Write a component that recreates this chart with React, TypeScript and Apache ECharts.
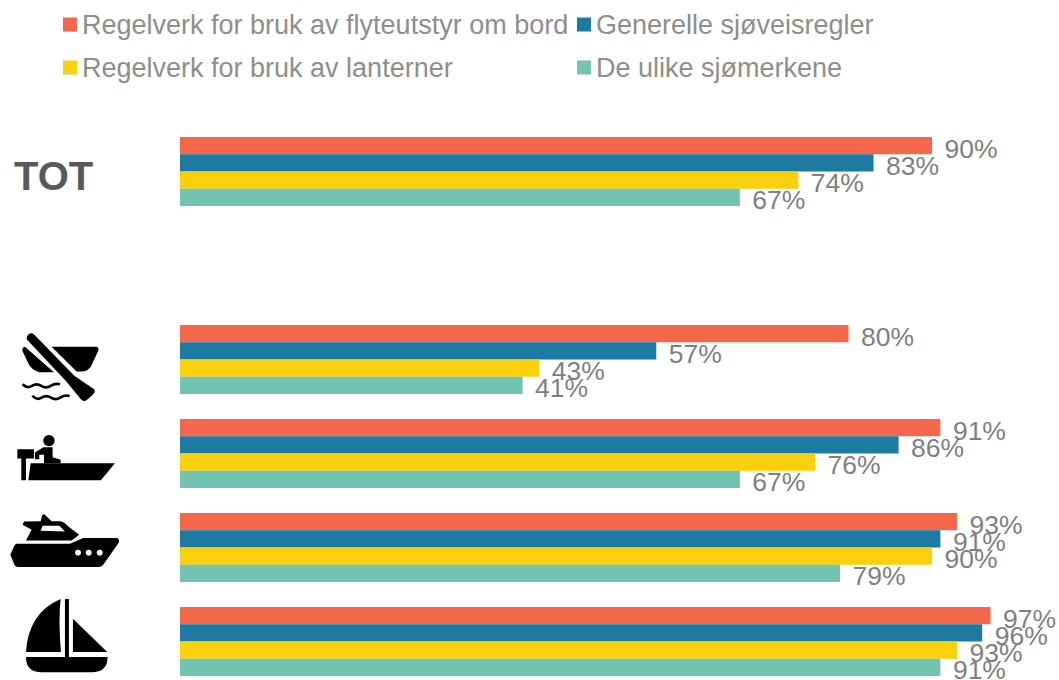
import React, { useEffect, useRef } from "react";
import * as echarts from "echarts";

const categories = ["TOT", "", "Robåt", "Motorbåt", "Kabinbåt", "Seilbåt"];
const seriesNames = [
  "Regelverk for bruk av flyteutstyr om bord",
  "Generelle sjøveisregler",
  "Regelverk for bruk av lanterner",
  "De ulike sjømerkene",
];
const flyteutstyr = [90, null, 80, 91, 93, 97];
const sjoveisregler = [83, null, 57, 86, 91, 96];
const lanterner = [74, null, 43, 76, 90, 93];
const sjomerker = [67, null, 41, 67, 79, 91];
const colors = ["#F4674B", "#1D7AA3", "#FACF0C", "#72C3B2"];

const icons: Record<string, string> = {
  iconOar: "M80 58 Q80 40 97 40 L103 44 L224 168 L284 209 Q287 216 280 223 L259 242 Q250 246 243 238 L198 183 Z",
  iconHullR: "M155 80 L290 80 Q298 82 295 92 L274 138 Q264 155 245 155 L230 155 Z",
  iconHullL: "M75 80 L162 157 L118 157 Q94 150 85 130 L67 92 Q66 82 75 80 Z",
  iconTorso: "M147 345 A17 17 0 1 1 146.9 345 Z M130 382 L158 382 L158 412 L182 420 L182 430 L132 430 L132 405 L118 405 L118 418 L105 418 L105 398 Z",
  iconMotor: "M52 388 L102 388 L102 416 L78 416 L78 481 L64 481 L64 416 L52 416 Z",
  iconHull2: "M92 430 L345 430 L303 481 L85 481 Z",
  iconYachtHull: "M50 672 L210 672 L250 655 L350 655 Q360 657 357 668 L310 735 Q305 742 295 742 L55 742 Q45 742 42 732 L31 705 L42 680 Q45 672 50 672 Z",
  iconYachtTop: "M78 662 L95 630 L68 615 L72 605 L122 604 L127 585 L133 583 L155 604 L180 604 Q195 606 205 620 L238 645 L215 662 Z",
  iconSailL: "M182 838 Q175 900 183 997 L78 997 Q85 880 182 838 Z",
  iconSailR: "M219 897 L322 997 L219 997 Z",
  iconMast: "M195 838 L207 838 L207 1012 L195 1012 Z",
  iconSailHull: "M78 1012 L323 1012 Q323 1058 275 1058 L125 1058 Q78 1058 78 1012 Z",
  iconWave: "M68 193 Q82 207 96 198 T124 198 T152 198 T180 193 M97 228 Q111 242 125 233 T153 233 T181 233 T209 228",
};
Object.keys(icons).forEach((k) => {
  echarts.graphic.registerShape(k, echarts.graphic.extendPath(icons[k], {}) as any);
});

export default function App() {
  const ref = useRef<HTMLDivElement>(null);
  useEffect(() => {
    const chart = echarts.init(ref.current!, null, { renderer: "svg" });
    const values = [flyteutstyr, sjoveisregler, lanterner, sjomerker];
    const legendPos = [
      [63, 11],
      [577, 11],
      [63, 54],
      [577, 54],
    ];
    const solid = Object.keys(icons)
      .filter((k) => k !== "iconWave")
      .map((k) => ({ type: k, x: 0, y: 320, scaleX: 1 / 3, scaleY: 1 / 3, style: { fill: "#000" } }));
    const tx = { x: 0, y: 320, scaleX: 1 / 3, scaleY: 1 / 3 };
    chart.setOption({
      animation: false,
      legend: seriesNames.map((name, i) => ({
        data: [name],
        left: legendPos[i][0],
        top: legendPos[i][1],
        padding: 0,
        itemWidth: 14,
        itemHeight: 14,
        icon: "rect",
        textStyle: {
          fontFamily: "Liberation Sans",
          fontSize: 27,
          color: "#8E8E8C",
          padding: [0, 0, 9, 0],
        },
      })),
      grid: { left: 180, top: 124.5, width: 835.6, height: 564 },
      xAxis: { type: "value", min: 0, max: 100, show: false },
      yAxis: {
        type: "category",
        inverse: true,
        data: categories,
        axisLine: { show: false },
        axisTick: { show: false },
        axisLabel: {
          align: "left",
          margin: 166,
          formatter: (v: string) => (v === "TOT" ? "{t|" + v + "}" : ""),
          rich: {
            t: {
              fontFamily: "Liberation Sans",
              fontWeight: "bold",
              fontSize: 40,
              color: "#595959",
              padding: [8, 0, 0, 0],
            },
          },
        },
      },
      series: seriesNames.map((name, i) => ({
        name,
        type: "bar",
        data: values[i],
        barWidth: 17.25,
        barGap: 0,
        itemStyle: { color: colors[i] },
        label: {
          show: true,
          position: "right",
          distance: 12.5,
          offset: [0, 3],
          fontFamily: "Liberation Sans",
          fontSize: 26.5,
          color: "#7F7F7F",
          formatter: "{c}%",
        },
      })),
      graphic: [
        ...solid,
        { type: "iconWave", ...tx, style: { fill: "none", stroke: "#000", lineWidth: 8 } },
        { type: "circle", shape: { cx: 78, cy: 552.7, r: 3 }, style: { fill: "#fff" } },
        { type: "circle", shape: { cx: 88.7, cy: 552.7, r: 3 }, style: { fill: "#fff" } },
        { type: "circle", shape: { cx: 99.7, cy: 552.7, r: 3 }, style: { fill: "#fff" } },
        {
          type: "polygon",
          ...tx,
          shape: { points: [[122, 633], [128, 618], [178, 618], [195, 635]] },
          style: { fill: "#fff" },
        },
      ],
    });
    return () => chart.dispose();
  }, []);
  return (
    <div style={{ position: "absolute", left: 0, top: 0, width: 1059, height: 680, overflow: "hidden" }}>
      <div ref={ref} style={{ width: 1059, height: 700 }} />
    </div>
  );
}
